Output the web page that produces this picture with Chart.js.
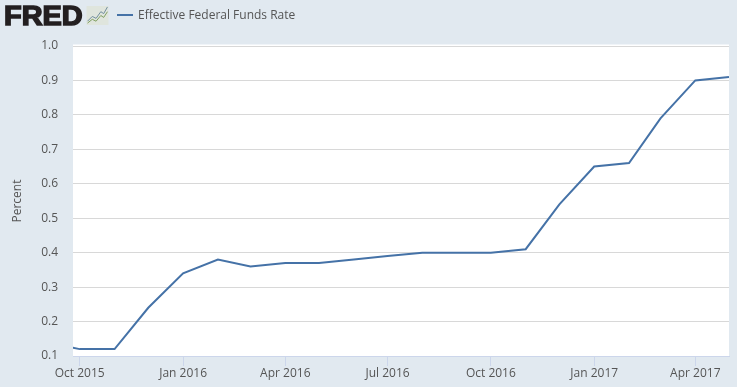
<!DOCTYPE html>
<html>
<head>
<meta charset="utf-8">
<title>Effective Federal Funds Rate</title>
<script src="https://cdn.jsdelivr.net/npm/chart.js@4"></script>
<style>
  html, body { margin: 0; padding: 0; background: #e1e9f0; overflow: hidden; }
  #wrap { position: relative; width: 737px; height: 387px; }
  #logo { position: absolute; left: 4px; top: 0px; font: 900 27px/33px "Liberation Sans", sans-serif; color: #231f20; -webkit-text-stroke: 1.5px #231f20; transform: scaleX(1.07); transform-origin: left center; }
  #icon { position: absolute; left: 86px; top: 6px; }
  #legendLine { position: absolute; left: 117px; top: 14px; width: 16px; height: 2px; background: #4572a7; }
  #legendText { position: absolute; left: 138px; top: 6px; font: 12px/18px "Open Sans", sans-serif; color: #555; }
</style>
</head>
<body>
<div id="wrap">
  <canvas id="fredChart" width="737" height="387"></canvas>
  <div id="logo">FRED</div>
  <svg id="icon" width="23" height="19" viewBox="0 0 23 20">
    <rect width="23" height="20" fill="#dfe5dd"/>
    <polyline points="1,16 6,11 10,13 15,6 18,8 22,1" fill="none" stroke="#6d8a9a" stroke-width="1"/>
    <polyline points="1,18 6,14 10,16 15,10 18,12 22,6" fill="none" stroke="#7c9c5c" stroke-width="1"/>
  </svg>
  <div id="legendLine"></div>
  <div id="legendText">Effective Federal Funds Rate</div>
</div>
<script>
// monthly averages
const months = ['2015-09-01', '2015-10-01', '2015-11-01', '2015-12-01', '2016-01-01', '2016-02-01', '2016-03-01',
  '2016-04-01', '2016-05-01', '2016-06-01', '2016-07-01', '2016-08-01', '2016-09-01', '2016-10-01', '2016-11-01',
  '2016-12-01', '2017-01-01', '2017-02-01', '2017-03-01', '2017-04-01', '2017-05-01'];
const rates = [0.14, 0.12, 0.12, 0.24, 0.34, 0.38, 0.36, 0.37, 0.37, 0.38, 0.39, 0.40, 0.40, 0.40, 0.41, 0.54, 0.65, 0.66, 0.79, 0.90, 0.91];

const tickDates = ['2015-10-01', '2016-01-01', '2016-04-01', '2016-07-01', '2016-10-01', '2017-01-01', '2017-04-01'];
const tickLabels = ['Oct 2015', 'Jan 2016', 'Apr 2016', 'Jul 2016', 'Oct 2016', 'Jan 2017', 'Apr 2017'];
const xStart = '2015-09-25';
const xEnd = '2017-05-01';

const textColor = '#555';
const tickFont = { family: '"Open Sans", sans-serif', size: 12 };

// white plot background, starts a bit above the 1.0 line
const plotBackground = {
  id: 'plotBackground',
  beforeDraw(chart) {
    const a = chart.chartArea;
    chart.ctx.fillStyle = '#fff';
    chart.ctx.fillRect(a.left, a.top - 1.5, a.width, a.height + 1.5);
  }
};

const ctx = document.getElementById('fredChart').getContext('2d');
const chart = new Chart(ctx, {
  type: 'line',
  data: {
    datasets: [{
      label: 'Effective Federal Funds Rate',
      data: months.map((m, i) => ({ x: Date.parse(m), y: rates[i] })),
      borderColor: '#4572a7',
      borderWidth: 2,
      pointRadius: 0,
      tension: 0
    }]
  },
  options: {
    responsive: false,
    animation: false,
    layout: { padding: { top: 46, right: 8 } },
    plugins: { legend: { display: false }, tooltip: { enabled: false } },
    scales: {
      x: {
        type: 'linear',
        min: Date.parse(xStart),
        max: Date.parse(xEnd),
        afterBuildTicks(scale) {
          scale.ticks = tickDates.map(d => ({ value: Date.parse(d) }));
        },
        afterFit(scale) { scale.height = 31; },
        grid: { drawOnChartArea: false, color: '#ccd6eb', tickLength: 10 },
        border: { color: '#ccd6eb' },
        ticks: {
          autoSkip: false,
          maxRotation: 0,
          padding: 0,
          color: textColor,
          font: tickFont,
          callback: v => tickLabels[tickDates.findIndex(d => Date.parse(d) === v)]
        }
      },
      y: {
        min: 0.1,
        max: 1.0,
        afterFit(scale) { scale.width = 73; },
        grid: { color: '#d8d8d8', drawTicks: false },
        border: { display: false },
        title: { display: true, text: 'Percent', color: textColor, font: tickFont, padding: { top: 10, bottom: 0 } },
        ticks: {
          stepSize: 0.1,
          padding: 15,
          color: textColor,
          font: tickFont,
          callback: v => v.toFixed(1)
        }
      }
    }
  },
  plugins: [plotBackground]
});
</script>
</body>
</html>
